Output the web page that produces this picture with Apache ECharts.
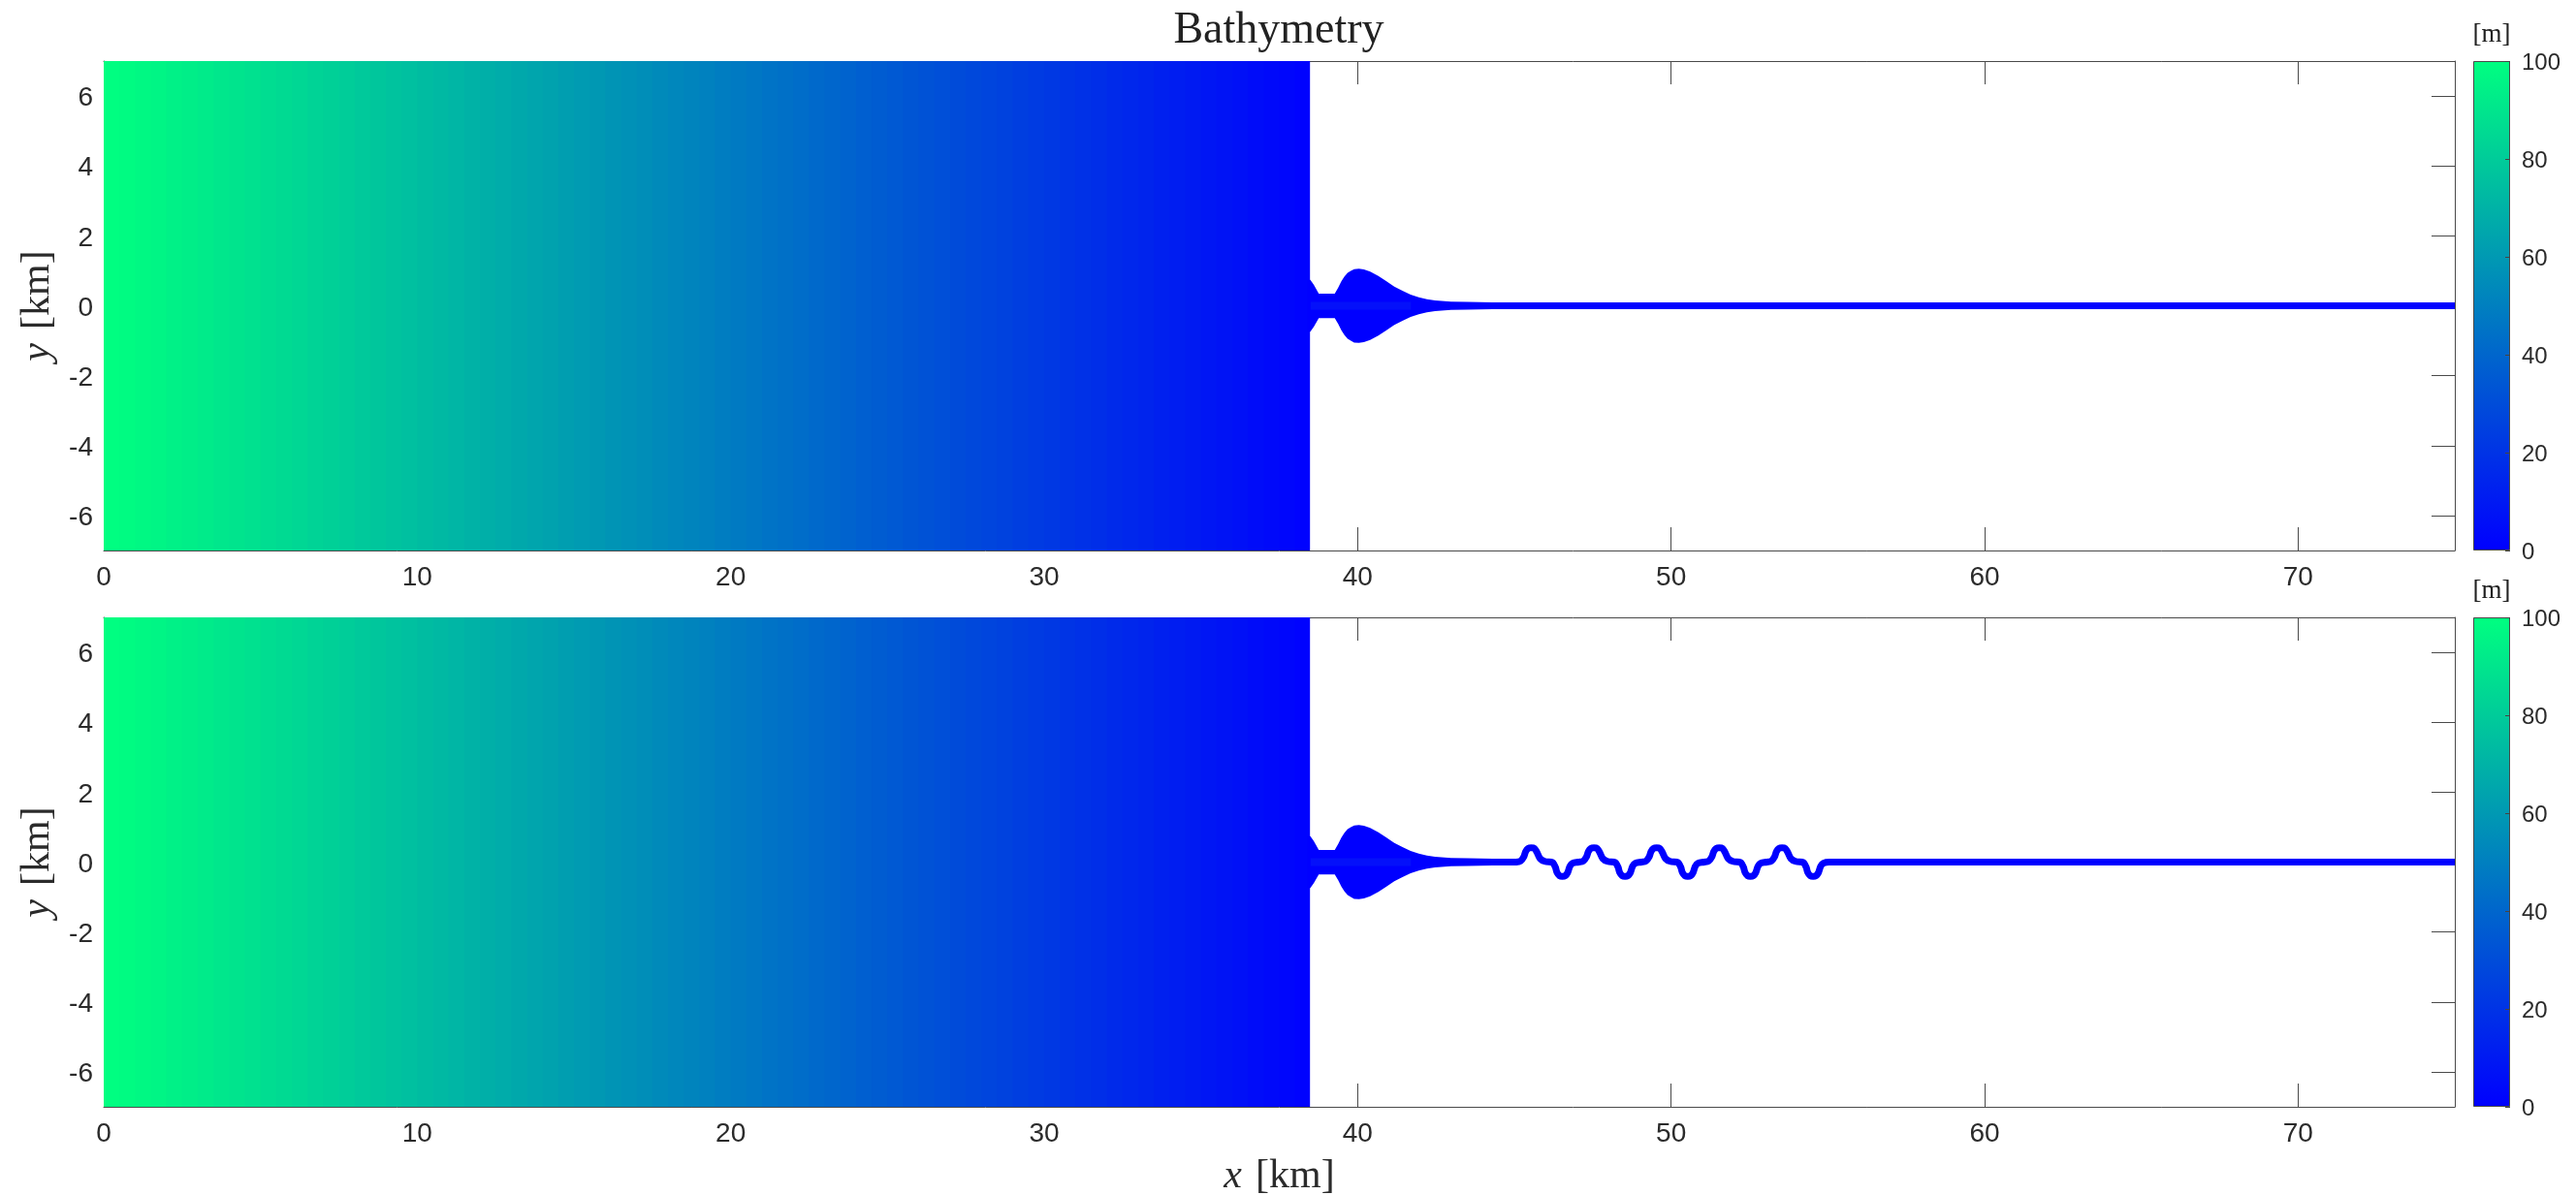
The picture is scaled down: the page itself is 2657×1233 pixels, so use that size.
<!DOCTYPE html>
<html>
<head>
<meta charset="utf-8">
<style>html,body{margin:0;padding:0;background:#fff}#c{width:2657px;height:1233px}</style>
<script src="https://cdn.jsdelivr.net/npm/echarts@6/dist/echarts.min.js"></script>
</head>
<body>
<div id="c"></div>
<script>
// ---- data ----
var xTicks = [0, 10, 20, 30, 40, 50, 60, 70];
var yTicks = [-6, -4, -2, 0, 2, 4, 6];
var colorbarTop = 100;
var colormapStops = ['#00ff80', '#0000ff'];

// Offshore field: depth [m] of each 0.5 km wide column starting at x = 0
var columnWidthKm = 0.5;
var shoreX = 38.48;
var columnDepth = [
  99.5, 98.5, 97.3, 96.0, 94.7, 93.4, 92.0, 90.7, 89.4, 88.1,
  86.8, 85.5, 84.2, 82.9, 81.6, 80.3, 79.0, 77.7, 76.4, 75.1,
  73.8, 72.5, 71.2, 69.9, 68.6, 67.3, 66.0, 64.7, 63.4, 62.1,
  60.8, 59.5, 58.2, 56.9, 55.6, 54.3, 53.0, 51.7, 50.4, 49.1,
  47.8, 46.5, 45.2, 43.9, 42.6, 41.3, 40.0, 38.7, 37.4, 36.1,
  34.8, 33.5, 32.2, 30.9, 29.6, 28.3, 27.0, 25.7, 24.4, 23.1,
  21.8, 20.5, 19.2, 17.9, 16.6, 15.3, 14.0, 12.7, 11.4, 10.1,
  8.8, 7.5, 6.2, 4.9, 3.6, 2.3, 1.0
];

// Estuary outline: half width [km] against x [km]
var estuaryX = [38.40, 38.49, 38.60, 38.76, 39.27, 39.38, 39.48, 39.58, 39.68, 39.78, 39.89, 40.04, 40.20, 40.40, 40.66, 40.92, 41.17, 41.43, 41.69, 41.95, 42.21, 42.47, 42.98, 43.50, 44.30, 45.10];
var estuaryHalf = [0.74, 0.74, 0.60, 0.35, 0.35, 0.52, 0.70, 0.84, 0.94, 1.00, 1.05, 1.06, 1.04, 0.98, 0.85, 0.70, 0.55, 0.43, 0.32, 0.24, 0.19, 0.15, 0.12, 0.11, 0.10, 0.09];

// Slightly shallower-coloured core of the estuary
var coreX = [38.5, 41.7];
var coreY = [0, 0];

// Straight river axis (top panel)
var riverX = [44, 75];
var riverY = [0, 0];

// Meandering river axis (bottom panel)
var meanderX = [44.00,
  45.05, 45.20, 45.30, 45.36, 45.44, 45.54, 45.64, 45.72, 45.82, 45.97, 46.18, 46.23, 46.31, 46.36, 46.44, 46.53, 46.62, 46.70, 46.77, 46.86,
  47.05, 47.20, 47.30, 47.36, 47.44, 47.54, 47.64, 47.72, 47.82, 47.97, 48.18, 48.23, 48.31, 48.36, 48.44, 48.53, 48.62, 48.70, 48.77, 48.86,
  49.05, 49.20, 49.30, 49.36, 49.44, 49.54, 49.64, 49.72, 49.82, 49.97, 50.18, 50.23, 50.31, 50.36, 50.44, 50.53, 50.62, 50.70, 50.77, 50.86,
  51.05, 51.20, 51.30, 51.36, 51.44, 51.54, 51.64, 51.72, 51.82, 51.97, 52.18, 52.23, 52.31, 52.36, 52.44, 52.53, 52.62, 52.70, 52.77, 52.86,
  53.05, 53.20, 53.30, 53.36, 53.44, 53.54, 53.64, 53.72, 53.82, 53.97, 54.18, 54.23, 54.31, 54.36, 54.44, 54.53, 54.62, 54.70, 54.77, 54.86,
  55.05, 75.00];
var meanderY = [0,
  0, 0.03, 0.15, 0.30, 0.39, 0.41, 0.39, 0.28, 0.10, 0.02, 0, -0.02, -0.15, -0.30, -0.39, -0.41, -0.39, -0.30, -0.12, -0.03,
  0, 0.03, 0.15, 0.30, 0.39, 0.41, 0.39, 0.28, 0.10, 0.02, 0, -0.02, -0.15, -0.30, -0.39, -0.41, -0.39, -0.30, -0.12, -0.03,
  0, 0.03, 0.15, 0.30, 0.39, 0.41, 0.39, 0.28, 0.10, 0.02, 0, -0.02, -0.15, -0.30, -0.39, -0.41, -0.39, -0.30, -0.12, -0.03,
  0, 0.03, 0.15, 0.30, 0.39, 0.41, 0.39, 0.28, 0.10, 0.02, 0, -0.02, -0.15, -0.30, -0.39, -0.41, -0.39, -0.30, -0.12, -0.03,
  0, 0.03, 0.15, 0.30, 0.39, 0.41, 0.39, 0.28, 0.10, 0.02, 0, -0.02, -0.15, -0.30, -0.39, -0.41, -0.39, -0.30, -0.12, -0.03,
  0, 0];

var xMax = 75, yLim = 7;

// ---- build ----
function zip(a, b) { return a.map(function (v, i) { return [v, b[i]]; }); }
var AX = '#4a4a4a', TXT = '#2b2b2b', SANS = '"Liberation Sans", Arimo, sans-serif', SERIF = '"Liberation Serif", serif';
var panelTops = [63, 637], plotH = 505;

var grids = [], xAxes = [], yAxes = [], series = [], visualIdx = [];

var mathRich = {
  i: { fontFamily: SERIF, fontStyle: 'italic', fontSize: 42, color: TXT },
  s: { fontFamily: SERIF, fontSize: 22, color: TXT, width: 14 },
  r: { fontFamily: SERIF, fontSize: 42, color: TXT }
};

function mainAxis(gridIndex, pos, isX, labelled, name) {
  var ticks = isX ? xTicks : yTicks;
  var a = {
    type: 'value', gridIndex: gridIndex, position: pos,
    min: isX ? 0 : -yLim, max: isX ? xMax : yLim,
    axisLine: { show: true, onZero: false, lineStyle: { color: AX, width: 1 } },
    axisTick: { show: true, inside: true, length: 24, customValues: ticks, lineStyle: { color: AX, width: 1 } },
    axisLabel: { show: labelled, customValues: ticks, fontFamily: SANS, fontSize: 28, color: TXT, margin: isX ? 14 : 11, hideOverlap: false },
    splitLine: { show: false }
  };
  if (!isX) { a.axisLabel.verticalAlign = 'top'; a.axisLabel.lineHeight = 5; }
  if (name) {
    a.name = name;
    a.nameLocation = 'middle';
    a.nameGap = isX ? 51 : 47;
    a.nameTextStyle = { rich: mathRich };
    if (!isX) a.nameRotate = 90;
  }
  return a;
}

panelTops.forEach(function (top, p) {
  var g = grids.length;
  grids.push({ left: 107, top: top, width: 2425, height: plotH, show: false, outerBoundsMode: 'none' });
  var xi = xAxes.length, yi = yAxes.length;
  xAxes.push(mainAxis(g, 'bottom', true, true, p === 1 ? '{i|x}{s| }{r|[km]}' : null));
  xAxes.push(mainAxis(g, 'top', true, false));
  yAxes.push(mainAxis(g, 'left', false, true, '{i|y}{s| }{r|[km]}'));
  yAxes.push(mainAxis(g, 'right', false, false));

  // offshore field: one rectangle per column, spanning the whole y range
  var cols = columnDepth.map(function (d, i) {
    return [i * columnWidthKm, Math.min((i + 1) * columnWidthKm, shoreX), d];
  });
  visualIdx.push(series.length);
  series.push({
    type: 'custom', xAxisIndex: xi, yAxisIndex: yi, clip: true, silent: true, animation: false, z: 2,
    data: cols, encode: { x: [0, 1] },
    renderItem: function (params, api) {
      var a = api.coord([api.value(0), yLim]);
      var b = api.coord([api.value(1), -yLim]);
      var last = params.dataIndex === cols.length - 1;
      return {
        type: 'rect',
        shape: { x: a[0], y: a[1], width: b[0] - a[0] + (last ? 0 : 1), height: b[1] - a[1] },
        style: { fill: api.visual('color') }
      };
    }
  });

  // estuary outline
  series.push({
    type: 'custom', xAxisIndex: xi, yAxisIndex: yi, clip: true, silent: true, animation: false, z: 2,
    data: estuaryX.map(function (x, i) { return [x, estuaryHalf[i]]; }),
    encode: { x: 0, y: 1 },
    renderItem: function (params, api) {
      if (params.dataIndex !== 0) return null;
      var up = [], dn = [];
      estuaryX.forEach(function (x, i) {
        up.push(api.coord([x, estuaryHalf[i]]));
        dn.unshift(api.coord([x, -estuaryHalf[i]]));
      });
      return { type: 'polygon', shape: { points: up.concat(dn) }, style: { fill: '#0000ff' } };
    }
  });

  // core
  series.push({
    type: 'line', xAxisIndex: xi, yAxisIndex: yi, data: zip(coreX, coreY), showSymbol: false, silent: true, animation: false, z: 3,
    lineStyle: { color: '#0410fa', width: 8, cap: 'butt' }
  });

  // river
  series.push({
    type: 'line', xAxisIndex: xi, yAxisIndex: yi,
    data: p === 0 ? zip(riverX, riverY) : zip(meanderX, meanderY),
    showSymbol: false, silent: true, animation: false, z: 3, smooth: p === 0 ? false : 0.35,
    lineStyle: { color: '#0000ff', width: 7, cap: 'butt', join: 'round' }
  });
});

// colorbars
panelTops.forEach(function (top) {
  var g = grids.length;
  grids.push({ left: 2551, top: top, width: 38, height: plotH, show: false, outerBoundsMode: 'none' });
  var xi = xAxes.length, yi = yAxes.length;
  xAxes.push({ type: 'category', gridIndex: g, data: ['depth'], show: false });
  yAxes.push({
    type: 'value', gridIndex: g, position: 'right', min: 0, max: colorbarTop, interval: 20, z: 5,
    axisLine: { show: false },
    axisTick: { show: true, inside: true, length: 5, lineStyle: { color: '#444', width: 1 } },
    axisLabel: { show: true, fontFamily: SANS, fontSize: 24, color: TXT, margin: 12, verticalAlign: 'top', lineHeight: 5 },
    splitLine: { show: false }
  });
  series.push({
    type: 'bar', xAxisIndex: xi, yAxisIndex: yi, data: [colorbarTop], barWidth: '100%', clip: false, silent: true, animation: false, z: 2,
    itemStyle: {
      borderColor: AX, borderWidth: 1,
      color: new echarts.graphic.LinearGradient(0, 0, 0, 1, [
        { offset: 0, color: colormapStops[0] }, { offset: 1, color: colormapStops[1] }
      ])
    }
  });
});

var titles = [{ text: 'Bathymetry', left: 1314, top: 4, textAlign: 'center',
  textStyle: { fontFamily: SERIF, fontWeight: 'normal', fontSize: 46, color: '#222' } }];
panelTops.forEach(function (top) {
  titles.push({ text: '[m]', left: 2565, top: top - 46, textAlign: 'center',
    textStyle: { fontFamily: SERIF, fontWeight: 'normal', fontSize: 27, color: '#222' } });
});

var chart = echarts.init(document.getElementById('c'), null, { renderer: 'canvas', width: 2657, height: 1233 });
chart.setOption({
  animation: false,
  backgroundColor: '#ffffff',
  title: titles,
  grid: grids,
  xAxis: xAxes,
  yAxis: yAxes,
  visualMap: [{
    type: 'continuous', show: false, min: 0, max: colorbarTop, dimension: 2, seriesIndex: visualIdx,
    inRange: { color: [colormapStops[1], colormapStops[0]] }
  }],
  series: series
});
</script>
</body>
</html>
